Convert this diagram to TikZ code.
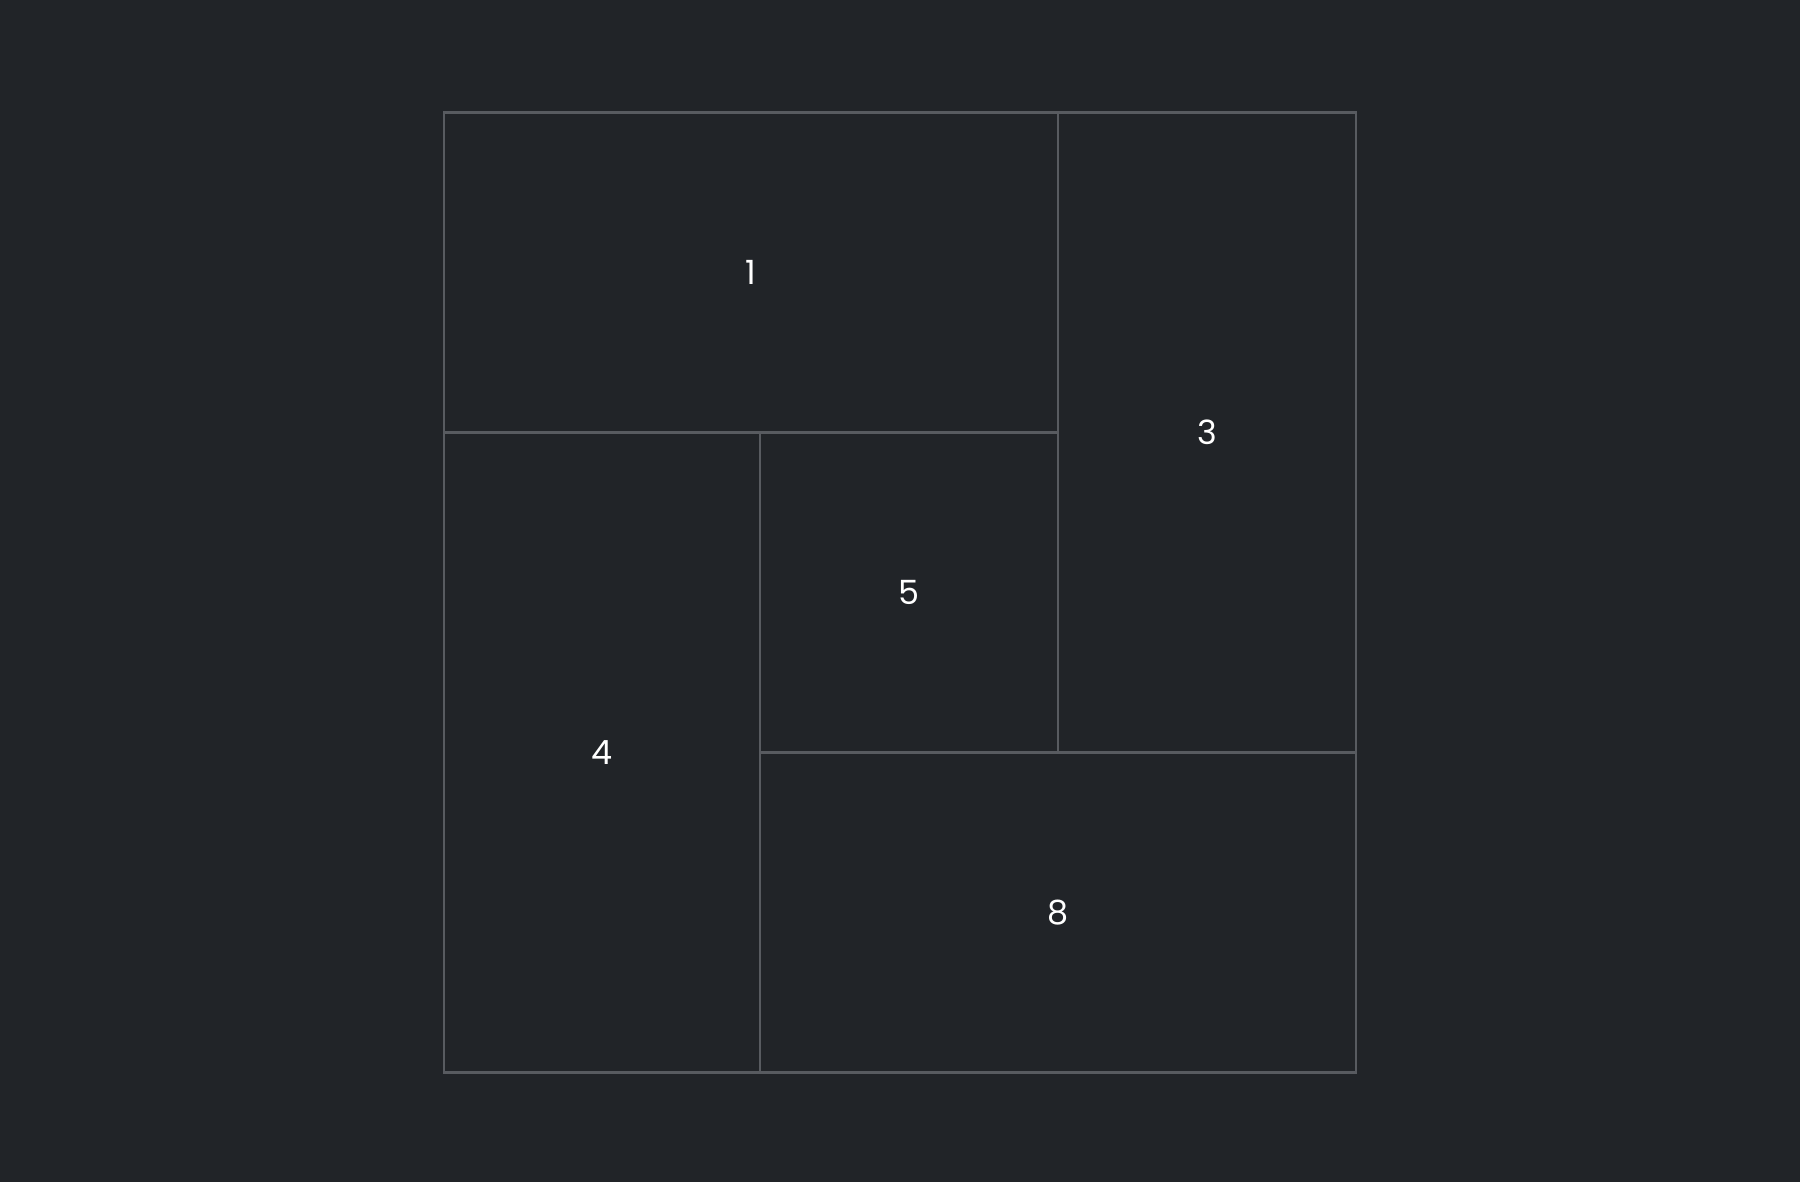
\documentclass[tikz,border=0pt]{standalone}
\usepackage{fontspec}
\setmainfont{Poppins}
\usepackage{xcolor}
\usetikzlibrary{positioning}

\definecolor{bgdark}{RGB}{33,36,40}
\definecolor{gridline}{RGB}{88,91,96}

\begin{document}
\begin{tikzpicture}[
    cell/.style={draw=gridline, line width=0.75pt, inner sep=0pt, outer sep=0pt,
                 text=white, font=\fontsize{9.5}{11}\selectfont, anchor=center},
    every node/.style={font=\fontsize{9.5}{11}\selectfont}
]
\fill[bgdark] (0,0) rectangle (18,11.82);
\useasboundingbox (0,0) rectangle (18,11.82);
% cells of the layout
\node[cell, minimum width=6.14cm, minimum height=3.2cm] (c1) at (7.51,9.095) {1};
\node[cell, minimum width=2.98cm, minimum height=6.4cm] (c3) at (12.07,7.495) {3};
\node[cell, minimum width=3.16cm, minimum height=6.4cm] (c4) at (6.02,4.295) {4};
\node[cell, minimum width=2.98cm, minimum height=3.2cm] (c5) at (9.09,5.895) {5};
\node[cell, minimum width=5.96cm, minimum height=3.2cm] (c8) at (10.58,2.695) {8};
\end{tikzpicture}
\end{document}
